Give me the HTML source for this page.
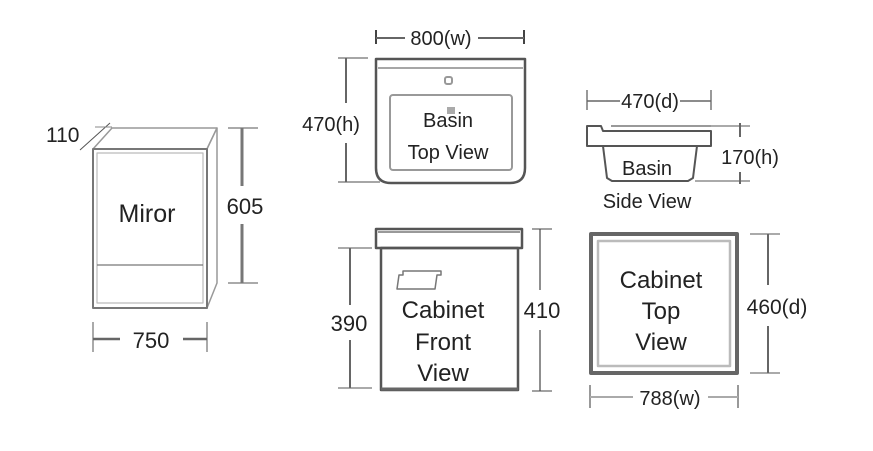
<!DOCTYPE html>
<html><head><meta charset="utf-8"><style>
html,body{margin:0;padding:0;background:#fff;}
svg{display:block;}
text{font-family:"Liberation Sans",sans-serif;fill:#222;}
</style></head><body>
<svg width="873" height="451" viewBox="0 0 873 451" xmlns="http://www.w3.org/2000/svg">
<g fill="none" stroke-linejoin="round">
<!-- Mirror -->
<polygon points="93,149 112,128 217,128 207,149" stroke="#999" stroke-width="1.5" fill="#fff"/>
<polygon points="207,149 217,128 217,283 207,308" stroke="#999" stroke-width="1.5" fill="#fff"/>
<rect x="93" y="149" width="114" height="159" stroke="#777" stroke-width="2"/>
<rect x="97" y="153" width="106" height="150" stroke="#bbb" stroke-width="1.2"/>
<line x1="97" y1="265" x2="203" y2="265" stroke="#777" stroke-width="1.2"/>
<line x1="80" y1="150" x2="110" y2="123" stroke="#555" stroke-width="1"/>
<line x1="95" y1="127" x2="112" y2="127" stroke="#888" stroke-width="1"/>
<!-- 605 dim -->
<line x1="228" y1="128" x2="258" y2="128" stroke="#aaa" stroke-width="2"/>
<line x1="228" y1="283" x2="258" y2="283" stroke="#aaa" stroke-width="2"/>
<line x1="242" y1="128" x2="242" y2="186" stroke="#777" stroke-width="3"/>
<line x1="242" y1="224" x2="242" y2="283" stroke="#777" stroke-width="3"/>
<!-- 750 dim -->
<line x1="93" y1="322" x2="93" y2="352" stroke="#aaa" stroke-width="2"/>
<line x1="207" y1="322" x2="207" y2="352" stroke="#aaa" stroke-width="2"/>
<line x1="93" y1="339" x2="120" y2="339" stroke="#666" stroke-width="2.5"/>
<line x1="183" y1="339" x2="207" y2="339" stroke="#666" stroke-width="2.5"/>

<!-- Basin top view -->
<path d="M376,59 L525,59 L525,168 Q525,183 510,183 L391,183 Q376,183 376,168 Z" stroke="#555" stroke-width="2.5"/>
<line x1="378" y1="68" x2="523" y2="68" stroke="#888" stroke-width="1.5"/>
<rect x="390" y="95" width="122" height="75" rx="3" stroke="#999" stroke-width="2"/>
<rect x="445" y="77" width="7" height="7" rx="2" stroke="#999" stroke-width="2"/>
<rect x="447" y="107" width="8" height="7" fill="#aaa" stroke="none"/>
<line x1="376" y1="30" x2="376" y2="44" stroke="#444" stroke-width="2"/>
<line x1="524" y1="30" x2="524" y2="44" stroke="#444" stroke-width="2"/>
<line x1="376" y1="38" x2="405" y2="38" stroke="#666" stroke-width="2"/>
<line x1="478" y1="38" x2="524" y2="38" stroke="#666" stroke-width="2"/>
<line x1="338" y1="58" x2="368" y2="58" stroke="#888" stroke-width="1.5"/>
<line x1="338" y1="182" x2="380" y2="182" stroke="#888" stroke-width="1.5"/>
<line x1="346" y1="58" x2="346" y2="103" stroke="#666" stroke-width="2"/>
<line x1="346" y1="143" x2="346" y2="182" stroke="#666" stroke-width="2"/>

<!-- Basin side view -->
<path d="M587,146 L587,126 L601,126 L603,131 L711,131 L711,146 Z" stroke="#555" stroke-width="2" fill="#fff"/>
<line x1="611" y1="126" x2="711" y2="126" stroke="#999" stroke-width="2"/>
<path d="M603,146 L607,178 L612,181 L688,181 L693,178 L697,146" stroke="#555" stroke-width="2"/>
<line x1="587" y1="90" x2="587" y2="110" stroke="#999" stroke-width="2"/>
<line x1="711" y1="90" x2="711" y2="110" stroke="#999" stroke-width="2"/>
<line x1="587" y1="101" x2="620" y2="101" stroke="#666" stroke-width="1.5"/>
<line x1="680" y1="101" x2="711" y2="101" stroke="#666" stroke-width="1.5"/>
<line x1="711" y1="126" x2="750" y2="126" stroke="#aaa" stroke-width="2"/>
<line x1="695" y1="181" x2="750" y2="181" stroke="#aaa" stroke-width="2"/>
<line x1="740" y1="123" x2="740" y2="137" stroke="#666" stroke-width="2"/>
<line x1="740" y1="172" x2="740" y2="184" stroke="#666" stroke-width="2"/>

<!-- Cabinet front -->
<rect x="376" y="229" width="146" height="19" stroke="#555" stroke-width="2.5" fill="#fff"/>
<line x1="378" y1="232" x2="520" y2="232" stroke="#999" stroke-width="2"/>
<rect x="381" y="248" width="137" height="142" stroke="#555" stroke-width="2.5"/>
<line x1="381" y1="389" x2="518" y2="389" stroke="#666" stroke-width="3"/>
<path d="M403,271 L441,271 L441,275 L437,275 L435,289 L397,289 L399,275 L403,275 Z" stroke="#777" stroke-width="1.5"/>
<line x1="338" y1="248" x2="372" y2="248" stroke="#aaa" stroke-width="2"/>
<line x1="338" y1="388" x2="372" y2="388" stroke="#aaa" stroke-width="2"/>
<line x1="350" y1="248" x2="350" y2="305" stroke="#666" stroke-width="2"/>
<line x1="350" y1="340" x2="350" y2="388" stroke="#666" stroke-width="2"/>
<line x1="532" y1="229" x2="552" y2="229" stroke="#444" stroke-width="1"/>
<line x1="532" y1="391" x2="552" y2="391" stroke="#444" stroke-width="1"/>
<line x1="540" y1="229" x2="540" y2="290" stroke="#444" stroke-width="1.2"/>
<line x1="540" y1="330" x2="540" y2="391" stroke="#444" stroke-width="1.2"/>

<!-- Cabinet top -->
<rect x="591" y="234" width="146" height="139" stroke="#666" stroke-width="4"/>
<rect x="598" y="241" width="132" height="125" stroke="#bbb" stroke-width="2.5"/>
<line x1="750" y1="234" x2="780" y2="234" stroke="#aaa" stroke-width="2"/>
<line x1="750" y1="373" x2="780" y2="373" stroke="#aaa" stroke-width="2"/>
<line x1="768" y1="234" x2="768" y2="285" stroke="#666" stroke-width="2"/>
<line x1="768" y1="326" x2="768" y2="373" stroke="#666" stroke-width="2"/>
<line x1="590" y1="385" x2="590" y2="408" stroke="#999" stroke-width="2"/>
<line x1="738" y1="385" x2="738" y2="408" stroke="#999" stroke-width="2"/>
<line x1="590" y1="397" x2="633" y2="397" stroke="#aaa" stroke-width="2"/>
<line x1="708" y1="397" x2="738" y2="397" stroke="#aaa" stroke-width="2"/>
</g>

<g font-size="21">
<text x="46" y="142">110</text>
<text x="147" y="222" text-anchor="middle" font-size="25">Miror</text>
<text x="245" y="214" text-anchor="middle" font-size="22">605</text>
<text x="151" y="348" text-anchor="middle" font-size="22">750</text>

<text x="441" y="45" text-anchor="middle" font-size="20">800(w)</text>
<text x="331" y="131" text-anchor="middle" font-size="20">470(h)</text>
<text x="448" y="127" text-anchor="middle" font-size="20">Basin</text>
<text x="448" y="159" text-anchor="middle" font-size="20">Top View</text>

<text x="650" y="108" text-anchor="middle" font-size="20">470(d)</text>
<text x="750" y="164" text-anchor="middle" font-size="20">170(h)</text>
<text x="647" y="175" text-anchor="middle" font-size="20">Basin</text>
<text x="647" y="208" text-anchor="middle" font-size="20">Side View</text>

<text x="349" y="331" text-anchor="middle" font-size="22">390</text>
<text x="542" y="318" text-anchor="middle" font-size="22">410</text>
<text x="443" y="318" text-anchor="middle" font-size="24">Cabinet</text>
<text x="443" y="350" text-anchor="middle" font-size="24">Front</text>
<text x="443" y="381" text-anchor="middle" font-size="24">View</text>

<text x="661" y="288" text-anchor="middle" font-size="24">Cabinet</text>
<text x="661" y="319" text-anchor="middle" font-size="24">Top</text>
<text x="661" y="350" text-anchor="middle" font-size="24">View</text>
<text x="777" y="314" text-anchor="middle" font-size="21">460(d)</text>
<text x="670" y="405" text-anchor="middle" font-size="20">788(w)</text>
</g>
</svg>
</body></html>
